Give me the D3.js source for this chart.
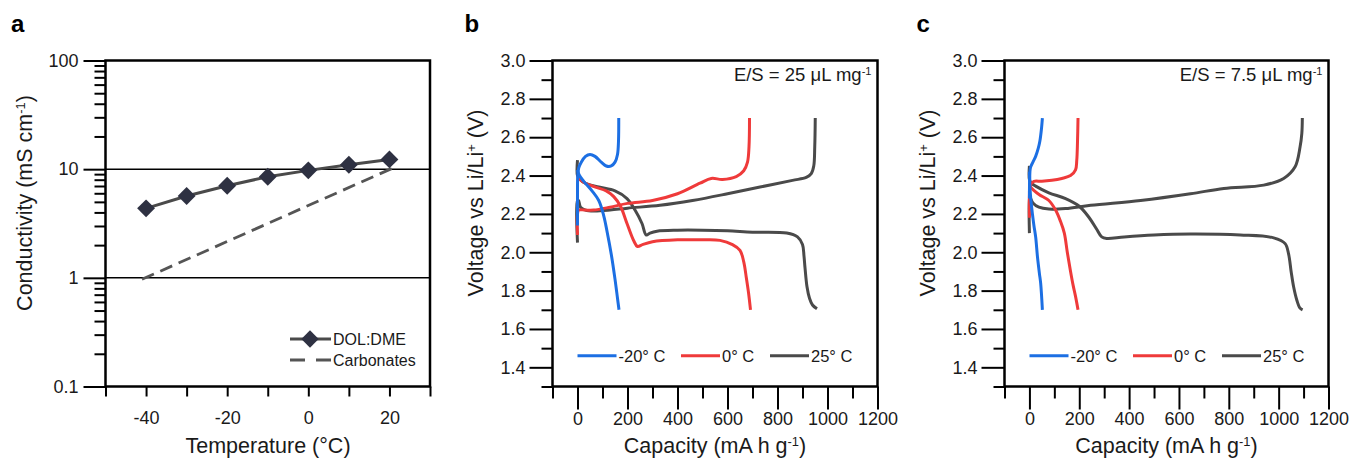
<!DOCTYPE html>
<html>
<head>
<meta charset="utf-8">
<script src="https://cdn.jsdelivr.net/npm/d3@7"></script>
<style>
  body { margin: 0; background: #fff; }
  svg { display: block; font-family: "Liberation Sans", Arial, sans-serif; }
  .tick line { stroke: #000; stroke-width: 2; }
  .tick text { fill: #1a1a1a; font-size: 18px; }
</style>
</head>
<body>
<svg id="chart" width="1352" height="460"></svg>
<script>
// ---- panel a: conductivity vs temperature
const temps = [-40, -30, -20, -10, 0, 10, 20];
const dolDme = [4.36, 5.66, 7.04, 8.51, 9.75, 10.97, 12.3];
const carbTemps = [-41, 22];
const carbonates = [0.97, 10.7];
const condTicks = [0.1, 1, 10, 100];
const tempTicks = [-40, -20, 0, 20];

// ---- panels b, c: [capacity, voltage]
const tempLabels = ['-20° C', '0° C', '25° C'];
const colors = ['#1c6fe3', '#ef3a3a', '#4a4a4a'];
const capTicks = [0, 200, 400, 600, 800, 1000, 1200];
const voltTicks = [1.4, 1.6, 1.8, 2.0, 2.2, 2.4, 2.6, 2.8, 3.0];

// E/S = 25
const bColdDis = [[0, 2.43], [8, 2.40], [25, 2.37], [58, 2.32], [85, 2.27], [105, 2.19], [118, 2.11], [135, 1.99], [150, 1.86], [160, 1.76], [166, 1.70]];
const bColdChg = [[0, 2.14], [0, 2.30], [1, 2.40], [5, 2.44], [15, 2.47], [32, 2.50], [50, 2.51], [70, 2.50], [95, 2.47], [115, 2.45], [135, 2.45], [150, 2.47], [160, 2.51], [164, 2.58], [165, 2.70]];
const bZeroDis = [[0, 2.40], [10, 2.38], [32, 2.36], [72, 2.34], [115, 2.32], [145, 2.29], [172, 2.24], [198, 2.15], [225, 2.06], [240, 2.03], [260, 2.04], [300, 2.055], [400, 2.065], [500, 2.065], [570, 2.062], [620, 2.04], [650, 2.01], [665, 1.95], [675, 1.87], [684, 1.79], [692, 1.70]];
const bZeroChg = [[0, 2.09], [0, 2.20], [5, 2.22], [30, 2.22], [65, 2.22], [130, 2.235], [200, 2.255], [300, 2.27], [400, 2.305], [490, 2.36], [535, 2.385], [580, 2.38], [635, 2.395], [665, 2.425], [680, 2.47], [686, 2.55], [688, 2.70]];
const bWarmDis = [[0, 2.48], [0, 2.40], [10, 2.38], [32, 2.36], [85, 2.34], [150, 2.32], [198, 2.28], [230, 2.22], [258, 2.15], [275, 2.09], [290, 2.10], [318, 2.11], [400, 2.115], [500, 2.115], [600, 2.112], [700, 2.105], [837, 2.10], [880, 2.08], [900, 2.04], [906, 1.98], [910, 1.92], [918, 1.82], [928, 1.76], [940, 1.725], [958, 1.705]];
const bWarmChg = [[0, 2.05], [0, 2.27], [4, 2.27], [12, 2.235], [32, 2.22], [65, 2.215], [130, 2.22], [200, 2.23], [330, 2.245], [460, 2.27], [600, 2.305], [730, 2.34], [860, 2.375], [915, 2.39], [935, 2.41], [945, 2.45], [949, 2.55], [951, 2.70]];

// E/S = 7.5
const cColdDis = [[0, 2.42], [2, 2.34], [6, 2.27], [12, 2.20], [18, 2.14], [25, 2.08], [32, 1.98], [40, 1.89], [45, 1.84], [52, 1.70]];
const cColdChg = [[0, 2.28], [1, 2.38], [4, 2.44], [14, 2.47], [25, 2.50], [35, 2.54], [42, 2.58], [48, 2.64], [52, 2.70]];
const cZeroDis = [[0, 2.36], [5, 2.34], [20, 2.32], [40, 2.30], [78, 2.27], [105, 2.22], [125, 2.16], [140, 2.10], [152, 2.00], [165, 1.90], [175, 1.83], [185, 1.77], [195, 1.70]];
const cZeroChg = [[0, 2.18], [0, 2.30], [3, 2.35], [18, 2.37], [50, 2.37], [90, 2.375], [130, 2.385], [165, 2.40], [185, 2.43], [190, 2.48], [193, 2.58], [195, 2.70]];
const cWarmDis = [[0, 2.45], [0, 2.38], [8, 2.36], [25, 2.345], [78, 2.31], [145, 2.28], [200, 2.24], [240, 2.18], [270, 2.12], [290, 2.08], [310, 2.072], [380, 2.08], [500, 2.09], [646, 2.095], [846, 2.09], [980, 2.075], [1026, 2.045], [1040, 1.99], [1050, 1.90], [1060, 1.82], [1073, 1.75], [1085, 1.71], [1096, 1.70]];
const cWarmChg = [[0, 2.10], [0, 2.30], [5, 2.28], [15, 2.255], [38, 2.235], [78, 2.225], [145, 2.228], [246, 2.245], [446, 2.27], [646, 2.305], [780, 2.333], [940, 2.35], [1020, 2.385], [1066, 2.446], [1086, 2.55], [1093, 2.62], [1095, 2.70]];

const svg = d3.select('#chart');
const plotTop = 60.5, plotBottom = 386.5;

function rich(sel, parts) {
  parts.forEach(([t, sup]) => {
    const ts = sel.append('tspan').text(t);
    if (sup) ts.attr('baseline-shift', 'super').attr('font-size', '0.6em');
  });
}

function frame(g, x0, x1) {
  g.append('rect')
    .attr('x', x0).attr('y', plotTop)
    .attr('width', x1 - x0).attr('height', plotBottom - plotTop)
    .attr('fill', 'none').attr('stroke', '#000').attr('stroke-width', 2.5);
}

function titles(g, cx, yx, xParts, yParts, letter, lx) {
  rich(g.append('text')
    .attr('x', cx).attr('y', 453)
    .attr('text-anchor', 'middle').attr('font-size', 21.5).attr('fill', '#1a1a1a'), xParts);
  rich(g.append('text')
    .attr('transform', `translate(${yx},203) rotate(-90)`)
    .attr('text-anchor', 'middle').attr('font-size', 21.5).attr('fill', '#1a1a1a'), yParts);
  g.append('text').attr('x', lx).attr('y', 32)
    .attr('font-size', 24).attr('font-weight', 'bold').text(letter);
}

// ---------------- panel a
{
  const g = svg.append('g');
  const x = d3.scaleLinear([-50, 30], [105.5, 430]);
  const y = d3.scaleLog([0.1, 100], [plotBottom, plotTop]);

  const minor = [];
  [0.1, 1, 10].forEach(d => d3.range(2, 10).forEach(k => minor.push(d * k)));

  g.append('g').attr('transform', `translate(0,${plotBottom})`)
    .call(d3.axisBottom(x).tickValues(d3.range(-50, 31, 10)).tickSize(10).tickPadding(15)
      .tickFormat(d => tempTicks.includes(d) ? String(d) : ''))
    .call(a => a.select('.domain').remove());
  g.append('g').attr('transform', `translate(105.5,0)`)
    .call(d3.axisLeft(y).tickValues(minor).tickSize(11).tickFormat(''))
    .call(a => a.select('.domain').remove());
  g.append('g').attr('transform', `translate(105.5,0)`)
    .call(d3.axisLeft(y).tickValues(condTicks).tickSize(22).tickPadding(5).tickFormat(d => String(d)))
    .call(a => a.select('.domain').remove());

  g.selectAll('line.grid').data([1, 10]).join('line').attr('class', 'grid')
    .attr('x1', 105.5).attr('x2', 430).attr('y1', d => y(d)).attr('y2', d => y(d))
    .attr('stroke', '#000').attr('stroke-width', 1.5);

  const carb = carbTemps.map((t, i) => [t, carbonates[i]]);
  g.append('path').datum(carb)
    .attr('d', d3.line().x(d => x(d[0])).y(d => y(d[1])))
    .attr('fill', 'none').attr('stroke', '#555').attr('stroke-width', 2.8).attr('stroke-dasharray', '13,7');

  const dol = temps.map((t, i) => [t, dolDme[i]]);
  g.append('path').datum(dol)
    .attr('d', d3.line().x(d => x(d[0])).y(d => y(d[1])))
    .attr('fill', 'none').attr('stroke', '#4a4a4a').attr('stroke-width', 3);
  const diamond = d3.symbol(d3.symbolSquare, 160);
  g.selectAll('path.pt').data(dol).join('path').attr('class', 'pt')
    .attr('d', diamond)
    .attr('transform', d => `translate(${x(d[0])},${y(d[1])}) rotate(45)`)
    .attr('fill', '#2e3142');

  frame(g, 105.5, 430);

  // legend
  const lg = g.append('g').attr('font-size', 16).attr('fill', '#1a1a1a');
  lg.append('line').attr('x1', 290).attr('x2', 331).attr('y1', 339).attr('y2', 339)
    .attr('stroke', '#4a4a4a').attr('stroke-width', 3);
  lg.append('path').attr('d', d3.symbol(d3.symbolSquare, 150))
    .attr('transform', 'translate(310,339) rotate(45)').attr('fill', '#2e3142');
  lg.append('text').attr('x', 333).attr('y', 345).text('DOL:DME');
  lg.append('line').attr('x1', 290).attr('x2', 331).attr('y1', 360).attr('y2', 360)
    .attr('stroke', '#555').attr('stroke-width', 2.8).attr('stroke-dasharray', '15,11');
  lg.append('text').attr('x', 333).attr('y', 366).text('Carbonates');

  titles(g, 268, 31.5,
    [['Temperature (°C)']],
    [['Conductivity (mS cm'], ['-1', true], [')']],
    'a', 11);
}

// ---------------- panels b, c
function voltagePanel(left, right, curves, esText, letter) {
  const g = svg.append('g');
  const x = d3.scaleLinear([-100, 1200], [left, right]);
  const y = d3.scaleLinear([1.3, 3.0], [plotBottom, plotTop]);

  g.append('g').attr('transform', `translate(0,${plotBottom})`)
    .call(d3.axisBottom(x).tickValues(d3.range(-100, 1201, 200)).tickSize(12).tickFormat(''))
    .call(a => a.select('.domain').remove());
  g.append('g').attr('transform', `translate(0,${plotBottom})`)
    .call(d3.axisBottom(x).tickValues(capTicks).tickSize(23).tickPadding(3).tickFormat(d => String(d)))
    .call(a => a.select('.domain').remove());
  g.append('g').attr('transform', `translate(${left},0)`)
    .call(d3.axisLeft(y).tickValues(d3.range(1.3, 3.0, 0.2)).tickSize(11).tickFormat(''))
    .call(a => a.select('.domain').remove());
  g.append('g').attr('transform', `translate(${left},0)`)
    .call(d3.axisLeft(y).tickValues(voltTicks).tickSize(23).tickPadding(4).tickFormat(d3.format('.1f')))
    .call(a => a.select('.domain').remove());

  const line = d3.line().x(d => x(d[0])).y(d => y(d[1])).curve(d3.curveCatmullRom.alpha(0.5));
  // draw warm first so cold sits on top
  [2, 1, 0].forEach(i => {
    curves[i].forEach(c => {
      g.append('path').datum(c).attr('d', line)
        .attr('fill', 'none').attr('stroke', colors[i]).attr('stroke-width', 3)
        .attr('stroke-linejoin', 'round');
    });
  });

  frame(g, left, right);

  rich(g.append('text').attr('x', right - 6).attr('y', 81)
    .attr('text-anchor', 'end').attr('font-size', 18.5).attr('fill', '#1a1a1a'),
    [[esText], ['-1', true]]);

  const legX = [25, 128.5, 217.5];
  tempLabels.forEach((t, i) => {
    g.append('line').attr('x1', left + legX[i]).attr('x2', left + legX[i] + 39)
      .attr('y1', 355.7).attr('y2', 355.7).attr('stroke', colors[i]).attr('stroke-width', 3);
    g.append('text').attr('x', left + legX[i] + 41).attr('y', 361.5)
      .attr('font-size', 16.5).attr('fill', '#1a1a1a').text(t);
  });

  titles(g, (left + right) / 2, left - 69.5,
    [['Capacity (mA h g'], ['-1', true], [')']],
    [['Voltage vs Li/Li'], ['+', true], [' (V)']],
    letter, left - 88);
}

voltagePanel(552.5, 877.5,
  [[bColdDis, bColdChg], [bZeroDis, bZeroChg], [bWarmDis, bWarmChg]],
  'E/S = 25 μL mg', 'b');
voltagePanel(1004.5, 1328.5,
  [[cColdDis, cColdChg], [cZeroDis, cZeroChg], [cWarmDis, cWarmChg]],
  'E/S = 7.5 μL mg', 'c');
</script>
</body>
</html>
